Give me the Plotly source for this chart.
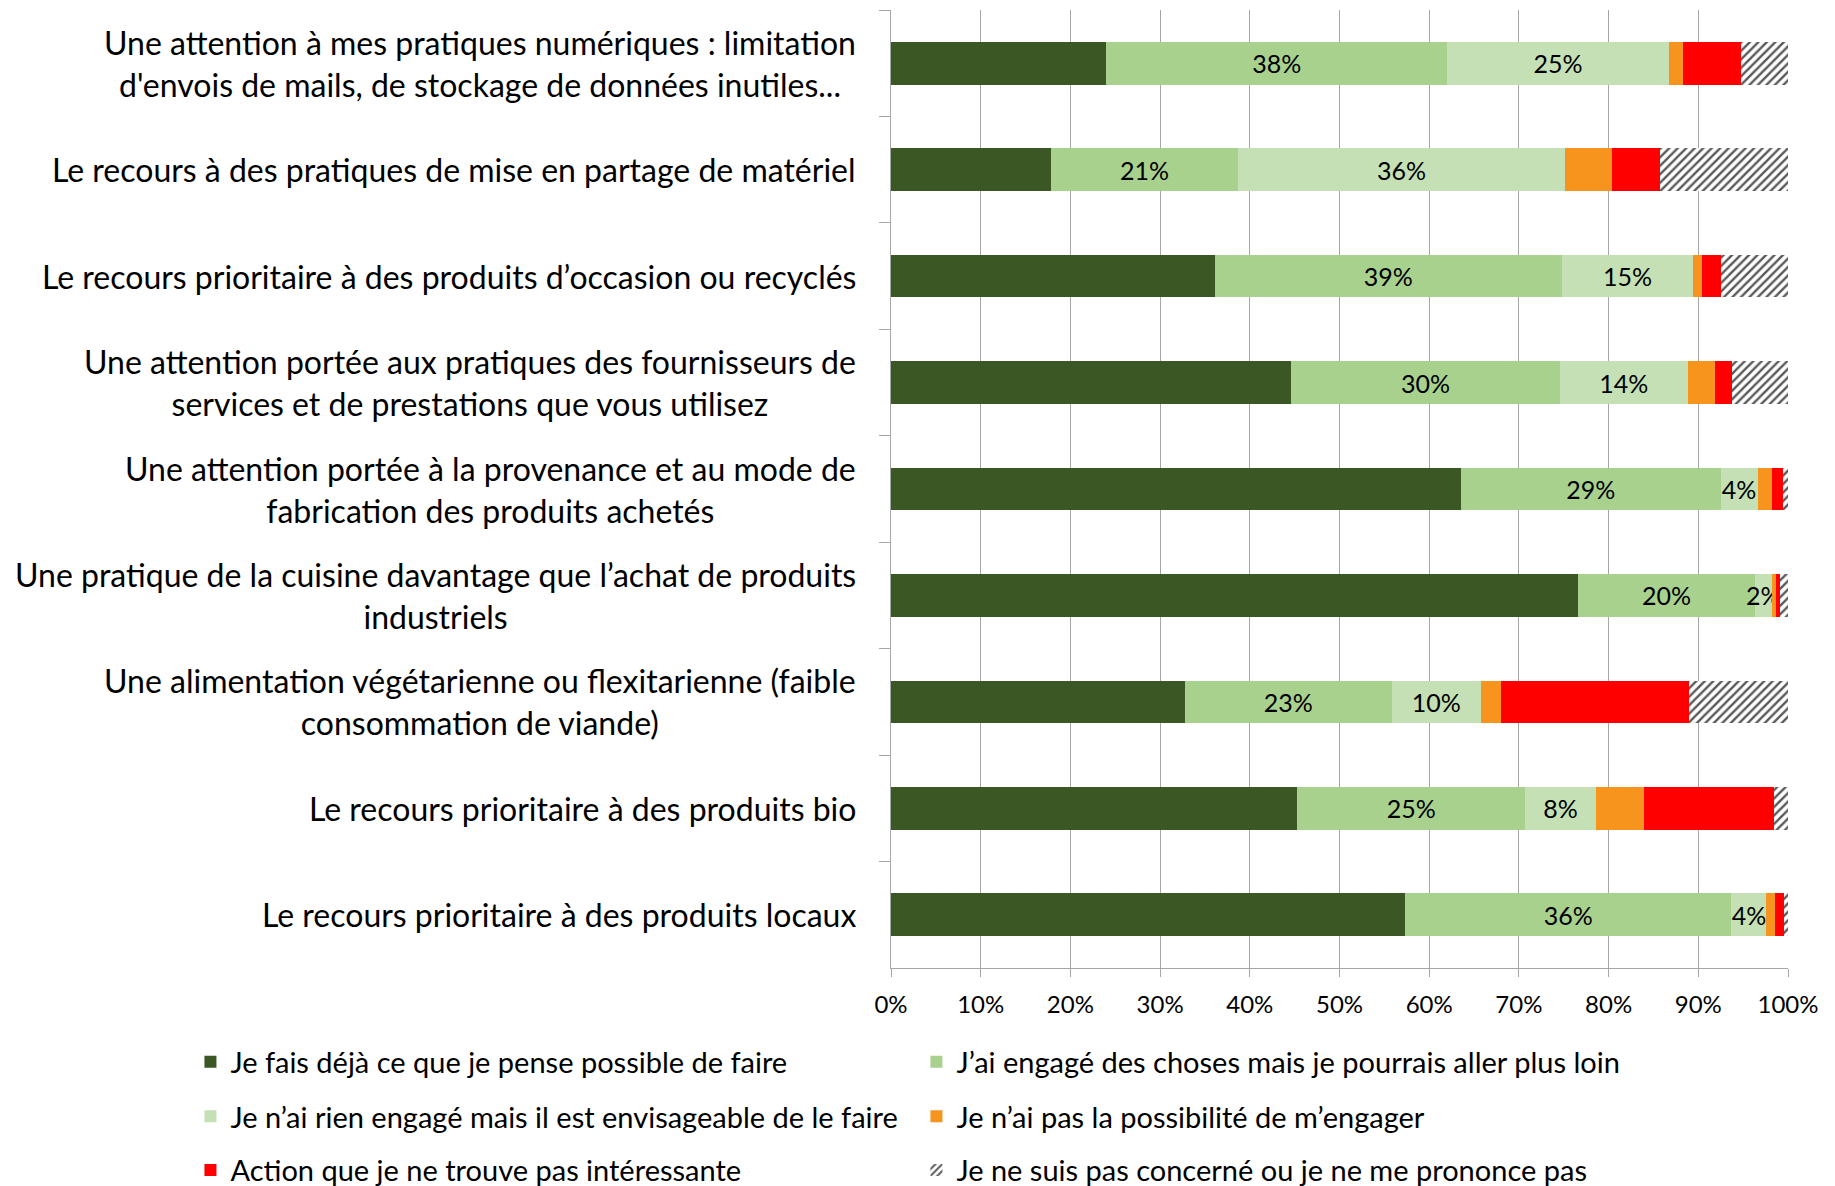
import plotly.graph_objects as go

# categories, top to bottom
categories = [
    "Une attention à mes pratiques numériques : limitation<br>d'envois de mails, de stockage de données inutiles...",
    "Le recours à des pratiques de mise en partage de matériel",
    "Le recours prioritaire à des produits d’occasion ou recyclés",
    "Une attention portée aux pratiques des fournisseurs de<br>services et de prestations que vous utilisez",
    "Une attention portée à la provenance et au mode de<br>fabrication des produits achetés",
    "Une pratique de la cuisine davantage que l’achat de produits<br>industriels",
    "Une alimentation végétarienne ou flexitarienne (faible<br>consommation de viande)",
    "Le recours prioritaire à des produits bio",
    "Le recours prioritaire à des produits locaux",
]

series_names = [
    "Je fais déjà ce que je pense possible de faire",
    "J’ai engagé des choses mais je pourrais aller plus loin",
    "Je n’ai rien engagé mais il est envisageable de le faire",
    "Je n’ai pas la possibilité de m’engager",
    "Action que je ne trouve pas intéressante",
    "Je ne suis pas concerné ou je ne me prononce pas",
]

# values in %
deja_fait = [24.0, 17.8, 36.1, 44.6, 63.5, 76.6, 32.8, 45.3, 57.3]
engage_plus = [38.0, 20.9, 38.7, 30.0, 29.0, 19.7, 23.0, 25.4, 36.4]
envisageable = [24.7, 36.4, 14.6, 14.2, 4.1, 1.9, 10.0, 7.9, 3.9]
pas_possible = [1.6, 5.3, 1.0, 3.1, 1.6, 0.5, 2.2, 5.4, 0.9]
pas_interessant = [6.5, 5.3, 2.1, 1.9, 1.2, 0.4, 21.0, 14.4, 1.0]
non_concerne = [5.2, 14.3, 7.5, 6.2, 0.6, 0.9, 11.0, 1.6, 0.5]

colors = ["#3a5724", "#a9d18e", "#c5e0b4", "#f7941d", "#ff0000", "#ffffff"]
FONT = "Lato"

all_values = [deja_fait, engage_plus, envisageable, pas_possible, pas_interessant, non_concerne]
show_labels = [False, True, True, False, False, False]
legend_ids = ["legend", "legend", "legend2", "legend2", "legend3", "legend3"]

fig = go.Figure()
for i, vals in enumerate(all_values):
    txt = [f"{round(v)}%" for v in vals] if show_labels[i] else None
    marker = dict(color=colors[i], line=dict(width=0))
    if i == 5:
        marker["pattern"] = dict(shape="/", fgcolor="#595959", bgcolor="#ffffff",
                                 size=6, solidity=0.4, fillmode="replace")
    fig.add_trace(go.Bar(
        y=categories, x=vals, orientation="h", name=series_names[i],
        marker=marker, text=txt, textposition="inside" if txt else "none",
        insidetextanchor="middle", textangle=0,
        textfont=dict(family=FONT, size=25, color="black"),
        legend=legend_ids[i], hoverinfo="x+name",
    ))

for c in categories:
    fig.add_annotation(x=-0.037, xref="paper", y=c, yref="y", text=c,
                       showarrow=False, xanchor="right", yanchor="middle",
                       align="center", font=dict(family=FONT, size=32, color="black"))

# page body has an 8px margin, so the margins below are shifted by 8px
leg = dict(orientation="h", x=-0.781, xanchor="left", yanchor="middle",
           traceorder="normal", entrywidth=681, entrywidthmode="pixels",
           font=dict(family=FONT, size=29, color="black"), bgcolor="rgba(0,0,0,0)")
fig.update_layout(
    barmode="stack", bargap=0.6,
    width=1835, height=1186,
    margin=dict(l=883, r=55, t=2, b=226, autoexpand=False),
    plot_bgcolor="white", paper_bgcolor="white",
    font=dict(family=FONT, color="black"),
    uniformtext=dict(minsize=25, mode="show"),
    legend=dict(leg, y=-0.098),
    legend2=dict(leg, y=-0.155),
    legend3=dict(leg, y=-0.211),
    xaxis=dict(range=[0, 100], dtick=10, ticksuffix="%", showgrid=True,
               gridcolor="#a6a6a6", gridwidth=1, showline=True, linecolor="#a6a6a6",
               ticks="outside", ticklen=8, tickcolor="#a6a6a6", zeroline=False,
               ticklabelstandoff=7,
               tickfont=dict(family=FONT, size=24, color="black")),
    yaxis=dict(autorange="reversed", showticklabels=False, showline=True,
               linecolor="#a6a6a6", ticks="outside", tickson="boundaries",
               ticklen=11, tickcolor="#a6a6a6", showgrid=False),
)

fig.write_html("out.html")
